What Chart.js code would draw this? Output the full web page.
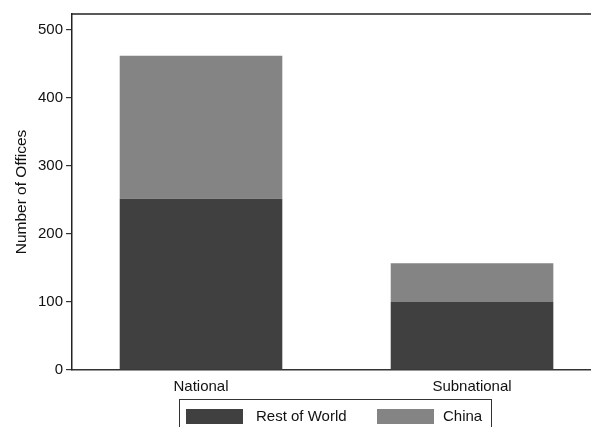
<!DOCTYPE html>
<html>
<head>
<meta charset="utf-8">
<script src="https://cdn.jsdelivr.net/npm/chart.js@4.4.0/dist/chart.umd.min.js"></script>
<style>
  body { margin: 0; background: #fff; overflow: hidden; }
  #wrap { position: relative; width: 591px; height: 427px; }
  #legend {
    position: absolute; left: 179px; top: 399px; width: 313px; height: 40px;
    border: 1px solid #333; box-sizing: border-box;
    font-family: "Liberation Sans", Arial, sans-serif; font-size: 15px; color: #111;
  }
  .sw { position: absolute; top: 9px; width: 57px; height: 15px; }
  .lb { position: absolute; top: 7px; }
</style>
</head>
<body>
<div id="wrap">
  <canvas id="barChart" width="591" height="427"></canvas>
  <div id="legend"></div>
</div>
<script>
// data
var categories = ["National", "Subnational"];
var restOfWorld = [252, 100];
var china = [210, 57];
var seriesNames = ["Rest of World", "China"];
var seriesColors = ["#404040", "#848484"];
var yTicks = [0, 100, 200, 300, 400, 500];

// html legend (box is cut off by the bottom of the picture)
var legendPos = [[6, 76], [197, 263]];
var legendDiv = document.getElementById('legend');
seriesNames.forEach(function (name, i) {
    legendDiv.innerHTML += '<div class="sw" style="left:' + legendPos[i][0] + 'px;background:' + seriesColors[i] + '"></div>' +
        '<div class="lb" style="left:' + legendPos[i][1] + 'px">' + name + '</div>';
});

// top frame line
var topLine = {
    id: 'topLine',
    afterDraw: function (chart) {
        var a = chart.chartArea, ctx = chart.ctx;
        ctx.save();
        ctx.strokeStyle = '#222';
        ctx.lineWidth = 1.5;
        ctx.beginPath();
        ctx.moveTo(a.left - 0.75, a.top);
        ctx.lineTo(a.right, a.top);
        ctx.stroke();
        ctx.restore();
    }
};

var ctx = document.getElementById('barChart').getContext('2d');
var barChart = new Chart(ctx, {
    type: 'bar',
    data: {
        datasets: [{
            label: seriesNames[0],
            data: restOfWorld.map(function (v, i) { return { x: i, y: v }; }),
            backgroundColor: seriesColors[0]
        }, {
            label: seriesNames[1],
            data: china.map(function (v, i) { return { x: i, y: v }; }),
            backgroundColor: seriesColors[1]
        }]
    },
    options: {
        responsive: false,
        animation: false,
        layout: { padding: { top: 14, right: 0, bottom: 31, left: 0 } },
        datasets: { bar: { categoryPercentage: 1, barPercentage: 0.6 } },
        plugins: {
            legend: { display: false },
            tooltip: { enabled: false }
        },
        scales: {
            x: {
                type: 'linear',
                stacked: true,
                offset: false,
                min: -0.476,
                max: 1.439,
                afterBuildTicks: function (scale) {
                    scale.ticks = categories.map(function (c, i) { return { value: i }; });
                },
                ticks: {
                    callback: function (v) { return categories[v]; },
                    color: '#111',
                    font: { family: 'Liberation Sans', size: 15 },
                    padding: 0,
                    maxRotation: 0
                },
                grid: { display: false },
                border: { display: true, color: '#333', width: 1.5 }
            },
            y: {
                stacked: true,
                min: 0,
                max: 523.5,
                afterBuildTicks: function (scale) {
                    scale.ticks = yTicks.map(function (v) { return { value: v }; });
                },
                afterFit: function (scale) { scale.width = 72; },
                ticks: {
                    color: '#111',
                    font: { family: 'Liberation Sans', size: 15 },
                    padding: 3
                },
                grid: { display: true, drawOnChartArea: false, drawTicks: true, tickLength: 6, color: '#333', lineWidth: 1.2 },
                border: { display: true, color: '#222', width: 1.5 },
                title: {
                    display: true,
                    text: 'Number of Offices',
                    color: '#111',
                    font: { family: 'Liberation Sans', size: 15.5 },
                    padding: { top: 12, bottom: 4 }
                }
            }
        }
    },
    plugins: [topLine]
});
</script>
</body>
</html>
